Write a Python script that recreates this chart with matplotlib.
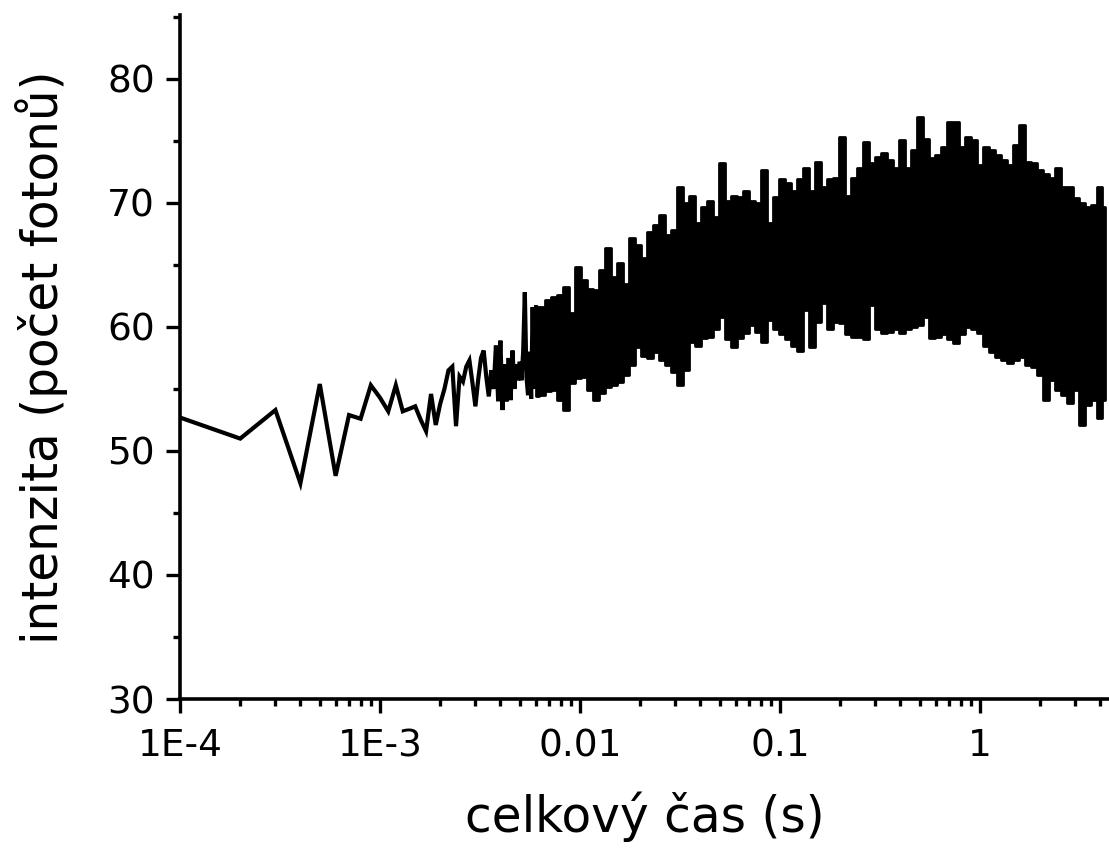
import matplotlib
matplotlib.use('Agg')
import matplotlib.pyplot as plt
from matplotlib.ticker import FixedLocator, LogLocator, NullFormatter, MultipleLocator

plt.rcParams['font.family'] = ['DejaVu Sans']

# sparse start of the record (time in s, photon count)
t_start = [1e-4, 2e-4, 3e-4, 4e-4, 5e-4, 6e-4, 7e-4, 8e-4, 9e-4, 1.0e-3,
           1.1e-3, 1.2e-3, 1.3e-3, 1.4e-3, 1.5e-3, 1.6e-3, 1.7e-3, 1.8e-3, 1.9e-3, 2.0e-3,
           2.1e-3, 2.2e-3, 2.3e-3, 2.4e-3, 2.5e-3, 2.6e-3, 2.7e-3, 2.8e-3, 2.9e-3, 3.0e-3,
           3.1e-3, 3.2e-3, 3.3e-3, 3.4e-3, 3.5e-3, 3.6e-3, 3.7e-3, 3.8e-3, 3.9e-3, 4.0e-3,
           4.1e-3, 4.2e-3, 4.3e-3, 4.4e-3, 4.5e-3, 4.6e-3, 4.7e-3, 4.8e-3, 4.9e-3, 5.0e-3,
           5.1e-3, 5.2e-3, 5.3e-3, 5.4e-3, 5.5e-3, 5.6e-3, 5.7e-3, 5.8e-3, 5.9e-3]
i_start = [52.7, 51.0, 53.3, 47.4, 55.4, 48.0, 52.9, 52.6, 55.3, 54.3,
           53.2, 55.3, 53.2, 53.4, 53.6, 52.5, 51.6, 54.6, 52.1, 53.8,
           55.0, 56.5, 56.8, 52.0, 56.0, 55.6, 56.8, 57.3, 55.5, 53.6,
           55.8, 57.5, 58.1, 56.0, 54.4, 56.5, 55.0, 58.5, 54.0, 58.9,
           53.3, 57.0, 54.0, 57.5, 54.1, 58.1, 55.0, 57.0, 55.7, 57.2,
           55.7, 58.0, 62.8, 56.0, 54.5, 58.0, 54.2, 61.6, 55.0]

# dense part: max / min of the signal read at these times
t_dense = [0.00603, 0.00646, 0.00692, 0.00741, 0.00794, 0.00851, 0.00912, 0.00977,
           0.01047, 0.01122, 0.01202, 0.01288, 0.01380, 0.01479, 0.01585, 0.01698,
           0.01820, 0.01950, 0.02089, 0.02239, 0.02399, 0.02570, 0.02754, 0.02951,
           0.03162, 0.03388, 0.03631, 0.03890, 0.04169, 0.04467, 0.04786, 0.05129,
           0.05495, 0.05888, 0.06310, 0.06761, 0.07244, 0.07762, 0.08318, 0.08913,
           0.09550, 0.1023, 0.1096, 0.1175, 0.1259, 0.1349, 0.1445, 0.1549,
           0.1660, 0.1778, 0.1905, 0.2042, 0.2188, 0.2344, 0.2512, 0.2692,
           0.2884, 0.3090, 0.3311, 0.3548, 0.3802, 0.4074, 0.4365, 0.4677,
           0.5012, 0.5370, 0.5754, 0.6166, 0.6607, 0.7079, 0.7586, 0.8128,
           0.8710, 0.9333, 1.000, 1.072, 1.148, 1.230, 1.318, 1.413,
           1.514, 1.622, 1.738, 1.862, 1.995, 2.138, 2.291, 2.455,
           2.630, 2.818, 3.020, 3.236, 3.467, 3.715, 3.981, 4.20]
i_max = [61.6, 61.6, 62.2, 62.4, 62.6, 63.2, 61.1, 64.8,
         63.8, 63.1, 63.0, 64.6, 66.4, 64.0, 65.2, 63.5,
         67.2, 66.6, 65.6, 67.7, 68.2, 69.0, 67.4, 67.8,
         71.3, 70.0, 70.6, 68.4, 69.7, 70.2, 68.9, 73.2,
         70.2, 70.6, 70.5, 71.0, 70.2, 70.0, 72.7, 68.4,
         70.5, 71.9, 71.6, 71.0, 71.9, 72.8, 71.0, 73.3,
         71.3, 71.9, 72.0, 75.3, 70.6, 72.0, 72.8, 74.9,
         73.2, 73.7, 74.0, 73.5, 72.8, 75.1, 72.8, 74.3,
         76.9, 75.2, 73.6, 73.9, 74.5, 76.5, 76.5, 74.5,
         75.3, 75.1, 73.1, 74.5, 74.3, 73.9, 73.5, 73.1,
         74.7, 76.3, 73.3, 73.2, 72.7, 72.3, 72.0, 72.8,
         71.3, 71.3, 70.4, 70.0, 69.7, 69.8, 71.3, 69.7]
i_min = [54.4, 54.5, 54.8, 54.9, 54.1, 53.3, 55.5, 55.9,
         56.0, 54.9, 54.1, 54.7, 55.2, 55.3, 55.6, 56.1,
         56.9, 58.4, 57.7, 57.5, 58.0, 57.3, 56.9, 56.4,
         55.3, 56.5, 58.8, 58.5, 59.1, 59.2, 59.8, 60.8,
         59.0, 58.4, 59.1, 59.5, 60.2, 59.6, 58.8, 60.6,
         59.8, 59.4, 59.0, 58.5, 58.1, 61.4, 58.4, 60.4,
         61.9, 59.8, 60.4, 60.3, 59.4, 59.2, 59.2, 59.0,
         61.8, 59.8, 59.5, 59.6, 59.8, 59.5, 59.8, 60.0,
         60.2, 60.8, 59.1, 59.2, 59.4, 59.0, 58.7, 59.4,
         60.0, 59.8, 59.5, 58.5, 58.0, 57.6, 57.3, 57.1,
         57.3, 57.6, 56.9, 56.8, 56.1, 54.1, 55.7, 54.9,
         54.5, 53.9, 54.9, 52.1, 53.7, 54.1, 52.7, 54.1]

major_t = [1e-4, 1e-3, 1e-2, 1e-1, 1]
major_lbl = ['1E-4', '1E-3', '0.01', '0.1', '1']

fig = plt.figure(figsize=(11.09, 8.49), dpi=100)
ax = fig.add_axes([180 / 1109, 150 / 849, 929 / 1109, 684 / 849])

ax.plot(t_start + [t_dense[0]], i_start + [i_max[0]], color='black', lw=3.0,
        solid_joinstyle='miter')
ax.fill_between(t_dense, i_min, i_max, step='mid', color='black',
                edgecolor='black', lw=2.0)

ax.set_xscale('log')
ax.set_xlim(1e-4, 4.42)
ax.set_ylim(30, 85.16)

ax.xaxis.set_major_locator(FixedLocator(major_t))
ax.set_xticklabels(major_lbl)
ax.xaxis.set_minor_locator(LogLocator(base=10, subs=[2, 3, 4, 5, 6, 7, 8, 9]))
ax.xaxis.set_minor_formatter(NullFormatter())
ax.yaxis.set_major_locator(MultipleLocator(10))
ax.yaxis.set_minor_locator(MultipleLocator(5))

for s in ['top', 'right']:
    ax.spines[s].set_visible(False)
for s in ['left', 'bottom']:
    ax.spines[s].set_linewidth(2.6)

ax.tick_params(which='major', direction='out', length=10, width=2.4,
               labelsize=27, pad=8)
ax.tick_params(axis='x', which='major', pad=11)
ax.tick_params(which='minor', direction='out', length=5, width=2.4)

ax.set_xlabel('celkový čas (s)', fontsize=35, labelpad=20)
ax.set_ylabel('intenzita (počet fotonů)', fontsize=35, labelpad=28)

fig.savefig('out.png', dpi=100)
plt.close(fig)
